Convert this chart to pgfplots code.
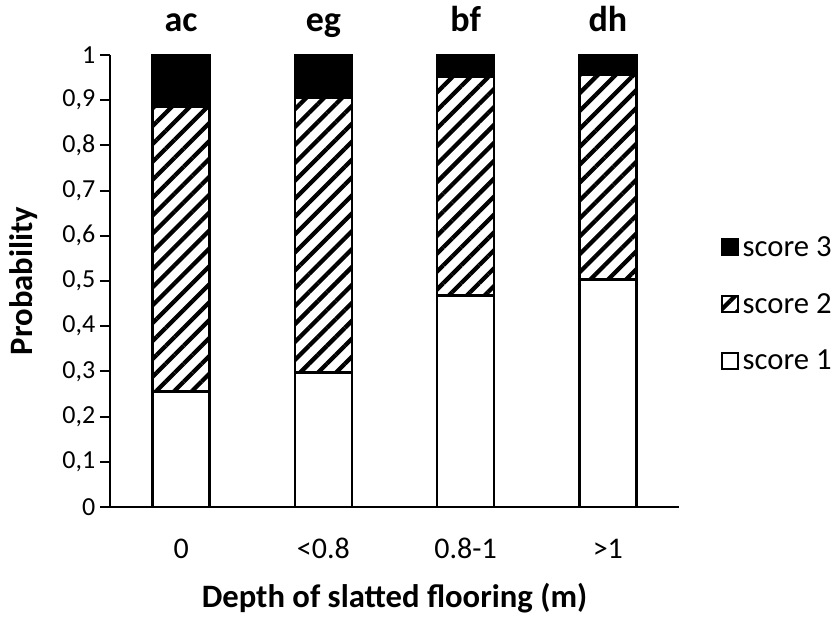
\documentclass[border=0pt]{standalone}
\usepackage{pgfplots}
\pgfplotsset{compat=1.18}
\usepackage{fontspec}
\setmainfont{Carlito}
\usetikzlibrary{patterns.meta}
\begin{document}
\begin{tikzpicture}[x=1pt,y=1pt]
\path[use as bounding box] (-82.5pt,-84pt) rectangle (546pt,380.25pt);
\begin{axis}[
  scale only axis,
  width=426.75pt, height=339pt,
  at={(0,0)}, anchor=south west,
  ybar stacked,
  bar width=42.75pt,
  xmin=-0.5, xmax=3.5,
  ymin=0, ymax=1,
  xtick=data,
  xticklabels={0,{<0.8},0.8-1,{>1}},
  ytick={0,0.1,0.2,0.3,0.4,0.5,0.6,0.7,0.8,0.9,1},
  yticklabels={0,{0,1},{0,2},{0,3},{0,4},{0,5},{0,6},{0,7},{0,8},{0,9},1},
  axis x line=bottom, axis y line=left,
  axis line style={line width=1.5pt,-},
  x axis line style={-},
  y axis line style={-},
  major x tick style={draw=none},
  ytick style={line width=1.5pt, black},
  tick align=outside,
  major tick length=7.5pt,
  yticklabel style={font=\fontsize{19.5}{22}\selectfont},
  xticklabel style={font=\fontsize{22.5}{26}\selectfont, anchor=base, yshift=-31pt},
  xlabel={\textbf{Depth of slatted flooring (m)}},
  ylabel={\textbf{Probability}},
  label style={font=\fontsize{24.5}{28}\selectfont},
  xlabel style={at={(axis description cs:0.5,0)}, anchor=base, yshift=-75pt},
  ylabel style={at={(axis description cs:0,0.5)}, anchor=base, yshift=58pt},
  clip=false,
  legend cell align=left,
  reverse legend,
  legend style={draw=none, inner sep=0pt, font=\fontsize{23}{26}\selectfont, at={(1.074,0.449)}, anchor=west, row sep=22.25pt, nodes={inner xsep=2.5pt}},
  legend image code/.code={\draw[#1, line width=1.5pt] (0pt,-6pt) rectangle (12pt,6pt);},
]
\addplot[fill=white, draw=black, line width=2pt] coordinates {(0,0.255) (1,0.297) (2,0.468) (3,0.503)};
\addlegendentry{score 1}
\addplot[pattern={Lines[angle=45,distance=9.5pt,line width=3.2pt]}, draw=black, line width=2pt] coordinates {(0,0.631) (1,0.609) (2,0.484) (3,0.453)};
\addlegendentry{score 2}
\addplot[fill=black, draw=black, line width=2pt] coordinates {(0,0.114) (1,0.094) (2,0.048) (3,0.044)};
\addlegendentry{score 3}
\node[anchor=base, font=\fontsize{27}{30}\selectfont\bfseries] at (axis cs:0,1.051) {ac};
\node[anchor=base, font=\fontsize{27}{30}\selectfont\bfseries] at (axis cs:1,1.051) {eg};
\node[anchor=base, font=\fontsize{27}{30}\selectfont\bfseries] at (axis cs:2,1.051) {bf};
\node[anchor=base, font=\fontsize{27}{30}\selectfont\bfseries] at (axis cs:3,1.051) {dh};
\end{axis}
\end{tikzpicture}
\end{document}
